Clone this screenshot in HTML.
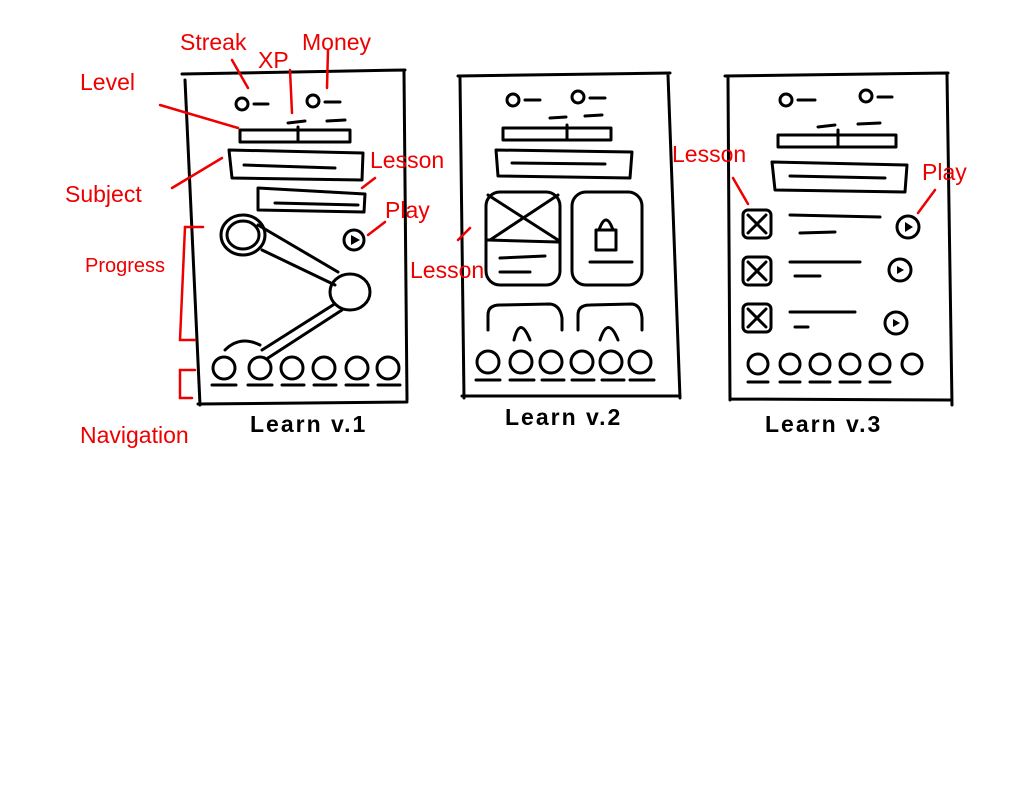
<!DOCTYPE html>
<html><head><meta charset="utf-8"><style>
html,body{margin:0;padding:0;background:#fff;}
svg{display:block;}
.k{fill:none;stroke:#000;stroke-width:3;stroke-linecap:round;stroke-linejoin:round;}
.r{fill:none;stroke:#e00;stroke-width:2.5;stroke-linecap:round;}
.rt{fill:#e00;font-family:"Liberation Sans",sans-serif;font-size:23px;}
.bt{fill:#000;font-family:"Liberation Sans",sans-serif;font-size:23px;font-weight:bold;letter-spacing:2px;}
</style></head><body>
<svg width="1024" height="791" viewBox="0 0 1024 791">
<!-- Frame 1 -->
<path class="k" d="M182 74 L405 70 M185 80 L200 405 M404 72 L407 400 M198 404 L407 402"/>
<circle class="k" cx="242" cy="104" r="6"/><path class="k" d="M254 104 L268 104 M288 123 L305 121 M327 121 L345 120"/>
<circle class="k" cx="313" cy="101" r="6"/><path class="k" d="M325 102 L340 102"/>
<rect class="k" x="240" y="130" width="110" height="12"/><path class="k" d="M298 127 L298 142"/>
<path class="k" d="M229 150 L363 153 L362 180 L232 178 Z M244 165 L335 168"/>
<path class="k" d="M258 188 L365 194 L364 212 L258 210 Z M275 203 L358 205"/>
<ellipse class="k" cx="243" cy="235" rx="22" ry="20"/><ellipse class="k" cx="243" cy="235" rx="16" ry="14"/>
<path class="k" d="M262 250 L335 285 M258 225 L338 272"/>
<ellipse class="k" cx="350" cy="292" rx="20" ry="18"/>
<path class="k" d="M333 305 L262 350 M342 310 L268 358 M225 350 Q240 335 260 345"/>
<circle class="k" cx="354" cy="240" r="10"/><path d="M351 235 L360 240 L351 245Z" fill="#000"/>
<g class="k"><circle cx="224" cy="368" r="11"/><circle cx="260" cy="368" r="11"/><circle cx="292" cy="368" r="11"/><circle cx="324" cy="368" r="11"/><circle cx="357" cy="368" r="11"/><circle cx="388" cy="368" r="11"/></g>
<path class="k" d="M212 385 L236 385 M248 385 L272 385 M282 385 L304 385 M314 385 L336 385 M346 385 L368 385 M378 385 L400 385"/>
<!-- Frame 2 -->
<path class="k" d="M458 76 L670 73 M460 78 L464 398 M668 75 L680 398 M462 396 L680 396"/>
<circle class="k" cx="513" cy="100" r="6"/><path class="k" d="M525 100 L540 100 M550 118 L566 117 M585 116 L602 115"/>
<circle class="k" cx="578" cy="97" r="6"/><path class="k" d="M590 98 L605 98"/>
<rect class="k" x="503" y="128" width="108" height="12"/><path class="k" d="M567 125 L567 140"/>
<path class="k" d="M496 150 L632 152 L630 178 L498 176 Z M512 163 L605 164"/>
<rect class="k" x="486" y="192" width="74" height="93" rx="14"/>
<path class="k" d="M488 195 L558 240 M558 195 L490 240 M488 240 L558 242 M500 258 L545 256 M500 272 L530 272"/>
<rect class="k" x="572" y="192" width="70" height="93" rx="14"/><path class="k" d="M590 262 L632 262"/>
<rect class="k" x="596" y="230" width="20" height="20"/><path class="k" d="M599 230 Q606 210 613 230"/>
<path class="k" d="M488 330 L488 315 Q488 305 500 305 L550 304 Q560 305 562 318 L562 330 M578 330 L578 315 Q578 305 590 305 L632 304 Q641 305 642 318 L642 330"/>
<path class="k" d="M514 340 Q520 315 530 340 M600 340 Q608 315 618 340"/>
<g class="k"><circle cx="488" cy="362" r="11"/><circle cx="521" cy="362" r="11"/><circle cx="551" cy="362" r="11"/><circle cx="582" cy="362" r="11"/><circle cx="611" cy="362" r="11"/><circle cx="640" cy="362" r="11"/></g>
<path class="k" d="M476 380 L500 380 M510 380 L534 380 M542 380 L564 380 M572 380 L594 380 M602 380 L624 380 M630 380 L654 380"/>
<!-- Frame 3 -->
<path class="k" d="M725 76 L948 73 M728 78 L730 400 M947 75 L952 405 M730 399 L950 400"/>
<circle class="k" cx="786" cy="100" r="6"/><path class="k" d="M798 100 L815 100 M818 127 L835 125 M858 124 L880 123"/>
<circle class="k" cx="866" cy="96" r="6"/><path class="k" d="M878 97 L892 97"/>
<rect class="k" x="778" y="135" width="118" height="12"/><path class="k" d="M838 130 L838 147"/>
<path class="k" d="M772 162 L907 165 L905 192 L775 190 Z M790 176 L885 178"/>
<g class="k">
<rect x="743" y="210" width="28" height="28" rx="5"/><path d="M748 215 L766 233 M766 215 L748 233"/>
<rect x="743" y="257" width="28" height="28" rx="5"/><path d="M748 262 L766 280 M766 262 L748 280"/>
<rect x="743" y="304" width="28" height="28" rx="5"/><path d="M748 309 L766 327 M766 309 L748 327"/>
<path d="M790 215 L880 217 M800 233 L835 232 M790 262 L860 262 M795 276 L820 276 M790 312 L855 312 M795 327 L808 327"/>
<circle cx="908" cy="227" r="11"/><circle cx="900" cy="270" r="11"/><circle cx="896" cy="323" r="11"/>
<circle cx="758" cy="364" r="10"/><circle cx="790" cy="364" r="10"/><circle cx="820" cy="364" r="10"/><circle cx="850" cy="364" r="10"/><circle cx="880" cy="364" r="10"/><circle cx="912" cy="364" r="10"/>
<path d="M748 382 L768 382 M780 382 L800 382 M810 382 L830 382 M840 382 L860 382 M870 382 L890 382"/>
</g>
<path d="M905 222 L913 227 L905 232Z M897 266 L904 270 L897 274Z M893 319 L900 323 L893 327Z" fill="#000"/>
<!-- red annotations -->
<text class="rt" x="180" y="50">Streak</text><text class="rt" x="258" y="68">XP</text><text class="rt" x="302" y="50">Money</text>
<text class="rt" x="80" y="90">Level</text><text class="rt" x="65" y="202">Subject</text>
<text class="rt" x="370" y="168">Lesson</text><text class="rt" x="385" y="218">Play</text>
<text class="rt" x="85" y="272" style="font-size:20px">Progress</text><text class="rt" x="80" y="443">Navigation</text>
<text class="rt" x="410" y="278">Lesson</text><text class="rt" x="672" y="162">Lesson</text><text class="rt" x="922" y="180">Play</text>
<path class="r" d="M232 60 L248 88 M290 70 L292 113 M328 50 L327 88 M160 105 L238 128 M172 188 L222 158 M362 188 L375 178 M368 235 L385 222 M203 227 L185 227 L180 340 L195 340 M195 370 L180 370 L180 398 L192 398 M458 240 L470 228 M733 178 L748 204 M918 213 L935 190"/>
<!-- titles -->
<text class="bt" x="250" y="432">Learn v.1</text><text class="bt" x="505" y="425">Learn v.2</text><text class="bt" x="765" y="432">Learn v.3</text>
</svg>
</body></html>
